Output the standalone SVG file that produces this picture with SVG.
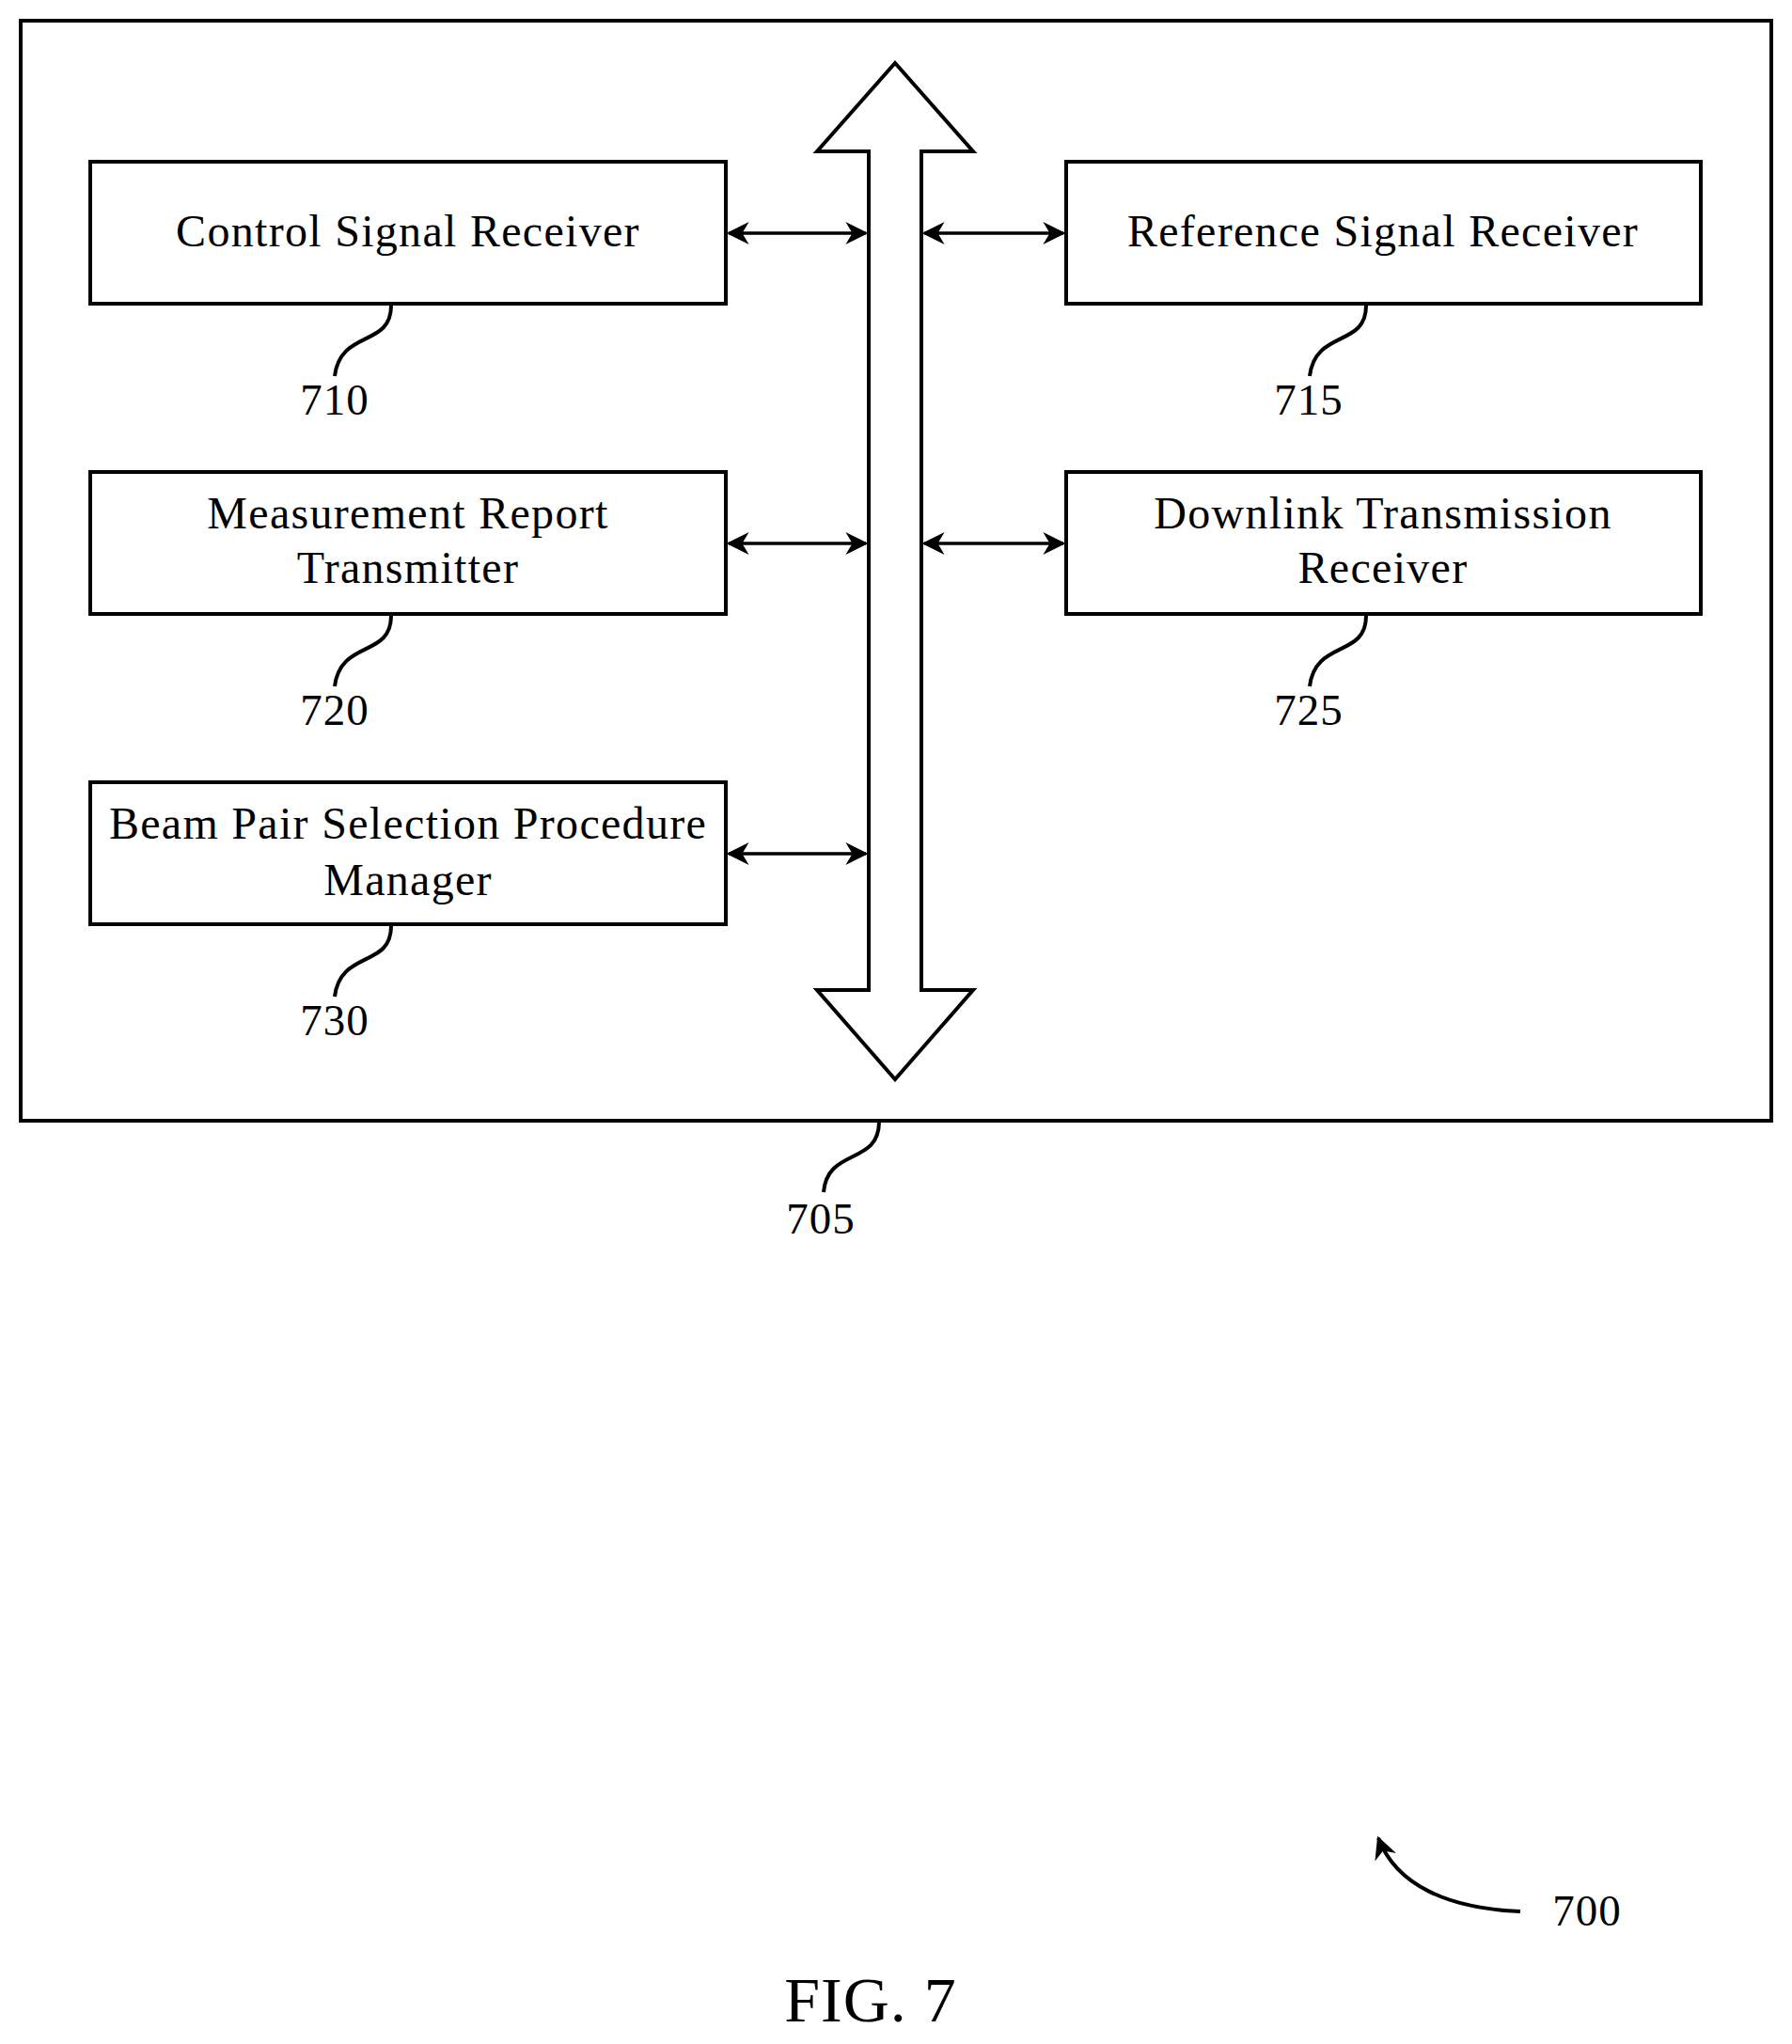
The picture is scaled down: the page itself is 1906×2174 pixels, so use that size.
<svg xmlns="http://www.w3.org/2000/svg" width="1906" height="2174" viewBox="0 0 1906 2174">
<defs>
<marker id="ah2" viewBox="0 0 10 10" refX="9" refY="5" markerWidth="24" markerHeight="24" orient="auto-start-reverse" markerUnits="userSpaceOnUse"><path d="M0,0 L10,5 L0,10 L3,5 Z" fill="#000"/></marker>
<style>
.b{fill:#fff;stroke:#000;stroke-width:4}
.t{font-family:"Liberation Serif",serif;font-size:48px;letter-spacing:1.3px;text-anchor:middle;fill:#000}
.n{font-family:"Liberation Serif",serif;font-size:47px;letter-spacing:1px;text-anchor:middle;fill:#000}
.l{fill:none;stroke:#000;stroke-width:4}
.c{fill:none;stroke:#000;stroke-width:3.5}
</style>
</defs>
<rect width="1906" height="2174" fill="#fff"/>
<g id="n705">
<rect class="b" x="22" y="22" width="1862" height="1170"/>
<path class="l" d="M935,1193 C935,1240 880,1220 876,1268"/>
<text class="n" x="873" y="1312">705</text>
</g>
<g id="bus">
<path class="b" d="M952,67 L1035,161 L980,161 L980,1053 L1035,1053 L952,1148 L869,1053 L924,1053 L924,161 L869,161 Z"/>
</g>
<g id="n710"><rect class="b" x="96" y="172" width="676" height="151"/><text class="t" x="434" y="262">Control Signal Receiver</text>
<path class="l" d="M416,325 C416,370 362,350 356,400"/><text class="n" x="356" y="441">710</text></g>
<g id="n715"><rect class="b" x="1134" y="172" width="675" height="151"/><text class="t" x="1471" y="262">Reference Signal Receiver</text>
<path class="l" d="M1453,325 C1453,370 1399,350 1393,400"/><text class="n" x="1392" y="441">715</text></g>
<g id="n720"><rect class="b" x="96" y="502" width="676" height="151"/><text class="t" x="434" y="562">Measurement Report</text><text class="t" x="434" y="620">Transmitter</text>
<path class="l" d="M416,655 C416,700 362,680 356,730"/><text class="n" x="356" y="771">720</text></g>
<g id="n725"><rect class="b" x="1134" y="502" width="675" height="151"/><text class="t" x="1471" y="562">Downlink Transmission</text><text class="t" x="1471" y="620">Receiver</text>
<path class="l" d="M1453,655 C1453,700 1399,680 1393,730"/><text class="n" x="1392" y="771">725</text></g>
<g id="n730"><rect class="b" x="96" y="832" width="676" height="151"/><text class="t" x="434" y="892">Beam Pair Selection Procedure</text><text class="t" x="434" y="952">Manager</text>
<path class="l" d="M416,985 C416,1030 362,1010 356,1060"/><text class="n" x="356" y="1101">730</text></g>
<g id="connectors">
<line class="c" x1="775" y1="248" x2="921" y2="248" marker-start="url(#ah2)" marker-end="url(#ah2)"/>
<line class="c" x1="983" y1="248" x2="1131" y2="248" marker-start="url(#ah2)" marker-end="url(#ah2)"/>
<line class="c" x1="775" y1="578" x2="921" y2="578" marker-start="url(#ah2)" marker-end="url(#ah2)"/>
<line class="c" x1="983" y1="578" x2="1131" y2="578" marker-start="url(#ah2)" marker-end="url(#ah2)"/>
<line class="c" x1="775" y1="908" x2="921" y2="908" marker-start="url(#ah2)" marker-end="url(#ah2)"/>
<path class="l" d="M1617,2033 C1540,2030 1485,2005 1466,1955" marker-end="url(#ah2)"/>
</g>
<text class="n" x="1688" y="2048">700</text>
<text class="n" x="926" y="2150" style="font-size:68px">FIG. 7</text>
</svg>
